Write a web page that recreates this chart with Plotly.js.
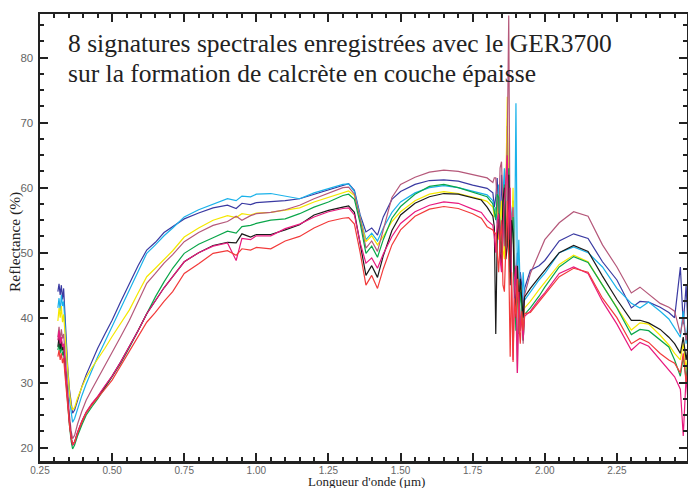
<!DOCTYPE html>
<html>
<head>
<meta charset="utf-8">
<script src="https://cdn.plot.ly/plotly-3.0.1.min.js"></script>
<style>
html,body{margin:0;padding:0;background:#fff;}
#chart{width:688px;height:488px;}
</style>
</head>
<body>
<div id="chart"></div>
<script>
// Longueur d'onde (µm)
const wavelength = [0.312,0.316,0.320,0.324,0.328,0.332,0.336,0.341,0.346,0.352,0.358,0.363,0.370,0.380,0.395,0.41,0.43,0.45,0.475,0.50,
0.53,0.56,0.59,0.62,0.65,0.68,0.71,0.75,0.80,0.85,0.90,0.93,0.95,0.98,1.00,1.05,1.10,1.15,1.20,1.25,
1.30,1.32,1.34,1.36,1.38,1.40,1.42,1.44,1.47,1.50,1.55,1.60,1.65,1.70,1.75,1.78,1.80,
1.82,1.825,1.83,1.835,1.84,1.845,1.85,1.855,1.86,1.865,1.87,1.875,1.88,1.885,1.89,1.895,1.90,1.905,1.91,1.915,1.92,1.925,1.93,
1.95,1.98,2.00,2.05,2.10,2.15,2.20,2.25,2.30,2.33,2.36,2.40,2.43,2.45,2.47,2.48,2.49,2.495];

// Reflectance (%) of the 8 signatures
const sigBleuFonce = [44.0,45.2,43.5,45.0,42.8,44.5,41.0,36.5,32.5,29.0,26.5,25.3,25.8,27.4,29.4,31.2,33.3,35.3,37.5,39.6,
42.5,45.3,48.0,50.4,51.6,53.1,54.0,55.2,56.1,56.9,57.3,56.8,57.6,57.4,57.7,57.8,58.0,58.3,59.0,59.7,
60.4,60.6,59.6,55.8,53.2,53.8,52.7,55.5,58.2,59.4,60.5,61.1,61.2,61.0,60.4,60.1,59.9,
59.2,57.0,58.5,61.5,55.0,52.0,62.0,56.0,50.5,58.0,69.5,57.0,47.0,53.0,58.0,49.0,44.0,50.0,40.5,47.0,45.0,41.0,44.5,
47.3,48.0,48.8,51.8,52.9,52.2,48.6,45.8,41.5,42.5,42.4,41.6,40.8,40.0,47.8,39.0,45.0,40.0];

const sigCyan = [41.5,43.0,41.0,43.5,41.8,42.5,39.5,35.0,31.0,27.5,25.0,23.9,24.5,26.0,28.0,29.8,32.0,34.0,36.3,38.6,
41.5,44.2,47.0,49.9,51.2,52.6,53.8,55.5,56.6,57.4,58.3,58.0,58.7,58.6,59.0,59.1,58.7,58.3,59.2,59.9,
60.5,60.6,59.4,55.5,52.0,53.0,51.8,53.8,56.2,57.8,59.2,60.0,60.3,60.0,59.4,59.1,58.9,
58.0,56.0,57.0,54.5,60.5,57.0,52.0,59.0,63.0,50.0,54.0,60.0,49.0,56.0,58.0,48.0,73.0,45.0,52.0,44.0,41.5,47.0,42.7,
44.0,45.8,46.8,50.0,50.9,50.0,47.8,44.5,42.2,41.5,42.4,41.0,39.8,38.5,37.0,41.0,36.0,39.0];

const sigJaune = [39.5,41.5,40.0,41.8,39.3,40.5,38.0,34.5,31.0,28.5,26.5,25.8,26.2,27.6,29.3,30.8,32.3,33.6,35.3,37.1,
39.2,41.2,43.8,46.3,47.6,48.9,50.3,52.4,53.8,55.0,55.7,55.4,56.0,55.8,56.1,56.2,56.5,56.9,57.8,58.5,
59.3,59.5,58.8,55.0,51.7,52.6,51.2,52.5,54.8,56.3,58.0,59.0,59.4,59.1,58.6,58.2,57.9,
57.0,55.5,56.0,58.0,52.0,55.0,58.0,50.5,49.0,60.0,74.0,55.0,46.0,52.0,60.0,45.0,42.0,48.0,40.0,45.5,43.0,39.5,41.5,
42.5,44.3,45.4,48.2,49.6,48.6,45.0,41.6,38.1,39.2,39.0,37.3,35.8,34.5,33.5,36.0,32.0,34.0];

const sigMauve = [37.0,38.6,36.5,38.2,36.8,37.5,35.0,31.5,28.0,25.0,22.6,21.4,21.9,23.6,25.6,27.3,29.0,30.6,32.6,34.5,
37.1,39.6,42.5,45.3,46.8,48.4,49.7,51.7,53.1,54.2,54.8,55.6,55.0,55.7,56.0,56.2,56.6,57.3,58.3,59.2,
60.0,60.1,59.0,55.2,50.7,51.8,50.2,53.5,58.5,60.5,61.6,62.4,62.7,62.5,62.0,61.6,61.5,
60.8,61.5,61.5,58.0,55.0,63.0,64.0,57.0,51.0,59.0,67.0,86.5,48.0,55.0,57.0,47.0,41.0,31.5,45.0,38.0,42.0,36.0,43.5,
46.8,50.0,52.0,54.6,56.3,55.6,51.2,47.8,43.8,44.7,43.6,42.2,41.6,41.0,37.5,40.0,36.5,38.0];

const sigVert = [35.0,36.0,34.5,35.8,34.2,34.8,32.5,29.5,26.5,23.5,21.0,19.8,20.4,21.8,23.5,25.0,26.3,27.5,29.2,30.9,
33.0,35.4,38.0,40.8,43.2,45.5,47.6,49.9,51.3,52.3,53.3,53.0,54.0,54.2,54.5,55.0,55.2,56.0,57.0,57.8,
58.8,59.0,58.2,54.5,49.9,51.0,49.3,52.0,55.3,57.1,59.0,60.2,60.5,60.0,59.3,58.9,58.6,
57.5,56.0,55.0,59.0,58.5,52.5,50.0,56.0,60.5,51.0,53.0,63.0,47.0,52.0,55.5,43.0,38.0,46.0,37.5,44.0,42.0,36.5,40.5,
41.5,43.3,44.7,47.8,49.4,48.5,45.0,41.5,37.4,38.2,38.0,36.5,35.5,33.5,31.0,34.0,30.5,33.0];

const sigNoir = [35.5,37.0,35.2,36.5,35.0,35.6,33.0,30.0,27.0,24.0,21.6,20.4,20.9,22.3,24.0,25.4,26.7,27.8,29.4,31.0,
33.2,35.5,38.0,40.6,42.5,44.6,46.3,48.6,50.0,51.1,51.6,51.5,52.9,52.4,52.8,52.8,53.5,54.3,55.8,56.5,
57.0,57.2,56.2,51.5,46.5,48.0,46.2,49.5,53.4,55.8,57.6,58.6,59.1,59.0,58.5,58.1,57.0,
55.6,54.0,37.5,52.0,56.0,50.0,48.0,58.0,60.0,49.0,51.0,62.0,45.0,55.0,53.0,44.0,40.0,48.0,41.0,46.0,43.0,40.0,43.2,
44.5,46.2,47.3,50.0,51.1,50.2,46.4,42.8,39.6,39.6,39.2,38.2,37.0,36.0,34.5,37.0,33.5,35.0];

const sigRose = [36.5,38.0,36.0,37.0,35.5,36.0,33.5,30.5,27.0,24.0,21.5,20.4,20.9,22.4,24.1,25.5,26.8,27.9,29.5,31.0,
33.2,35.5,38.0,40.6,42.5,44.6,46.3,48.6,50.0,51.0,51.5,48.8,52.2,52.0,52.6,52.6,53.7,54.4,55.5,56.3,
56.8,56.9,55.8,51.5,48.4,49.2,47.6,49.8,52.5,54.5,56.3,57.3,57.8,57.6,56.7,56.2,55.0,
54.2,52.5,50.0,55.0,56.0,49.0,47.0,54.0,58.0,62.0,65.0,52.0,60.0,44.0,33.5,46.0,48.0,31.5,44.0,38.0,40.0,36.5,40.2,
41.0,42.8,43.8,46.8,47.8,46.8,42.5,39.0,35.0,36.2,35.6,33.5,32.0,30.9,29.0,21.8,31.0,28.0];

const sigRouge = [34.0,35.0,33.5,34.5,33.0,33.8,31.5,29.0,26.0,23.5,21.5,20.5,20.8,22.2,23.9,25.3,26.6,27.6,29.0,30.4,
32.6,34.8,37.0,39.3,40.8,42.5,44.0,46.8,48.3,49.9,50.3,49.6,50.6,50.4,50.8,50.6,51.8,52.5,53.8,54.8,
55.3,55.4,54.4,50.0,45.0,46.5,44.5,47.5,51.2,53.5,55.6,56.7,57.1,56.8,56.0,55.3,54.0,
53.5,53.0,53.0,50.0,47.0,52.0,55.0,45.0,44.0,51.0,58.0,49.0,34.0,47.0,33.2,43.0,40.0,46.0,39.0,36.0,41.0,38.0,40.6,
40.8,42.5,43.6,46.3,47.6,47.0,43.0,40.0,36.0,36.8,36.2,34.5,33.5,33.0,31.5,34.5,30.0,32.0];

const seriesNames = ['Signature 1','Signature 2','Signature 3','Signature 4','Signature 5','Signature 6','Signature 7','Signature 8'];
const seriesValues = [sigBleuFonce, sigCyan, sigJaune, sigMauve, sigVert, sigNoir, sigRose, sigRouge];
const seriesColors = ['#3a3aa2','#1ab2ea','#f5e800','#b5587a','#0aa64a','#1a1a1a','#e8197e','#f23a3a'];

const xTickVals = [0.25,0.50,0.75,1.00,1.25,1.50,1.75,2.00,2.25];
const xTickText = ['0.25','0.50','0.75','1.00','1.25','1.50','1.75','2.00','2.25'];
const yTickVals = [20,30,40,50,60,70,80];

const titleLine1 = '8 signatures spectrales enregistrées avec le GER3700';
const titleLine2 = 'sur la formation de calcrète en couche épaisse';
const xTitle = "Longueur d'onde (µm)";
const yTitle = 'Reflectance (%)';

const traces = seriesValues.map((vals, i) => ({
  x: wavelength,
  y: vals,
  type: 'scatter',
  mode: 'lines',
  name: seriesNames[i],
  line: {color: seriesColors[i], width: 1.2},
  hoverinfo: 'skip'
}));

const serif = 'Liberation Serif';
const sans = 'Liberation Sans';

const layout = {
  width: 688,
  height: 488,
  margin: {l: 40, r: 1, t: 14, b: 27, pad: 0},
  paper_bgcolor: '#ffffff',
  plot_bgcolor: '#ffffff',
  showlegend: false,
  xaxis: {
    range: [0.25, 2.493],
    tickvals: xTickVals,
    ticktext: xTickText,
    ticks: 'inside',
    ticklen: 8,
    tickwidth: 2,
    tickcolor: '#222',
    minor: {dtick: 0.05, tick0: 0.25, ticks: 'inside', ticklen: 4, tickwidth: 2, tickcolor: '#222', showgrid: false},
    showline: true,
    linecolor: '#222',
    linewidth: 2.5,
    mirror: 'ticks',
    showgrid: false,
    zeroline: false,
    ticklabelstandoff: -2,
    tickfont: {family: sans, size: 10, color: '#666'}
  },
  yaxis: {
    range: [17.95, 86.72],
    tickvals: yTickVals,
    ticks: 'inside',
    ticklen: 8,
    tickwidth: 2,
    tickcolor: '#222',
    minor: {dtick: 2.5, tick0: 20, ticks: 'inside', ticklen: 4, tickwidth: 2, tickcolor: '#222', showgrid: false},
    showline: true,
    linecolor: '#222',
    linewidth: 2.5,
    mirror: 'ticks',
    showgrid: false,
    zeroline: false,
    ticklabelstandoff: 2,
    tickfont: {family: sans, size: 11.5, color: '#666'}
  },
  annotations: [
    {xref: 'paper', yref: 'paper', x: 0.040, y: 0.934, xanchor: 'left', yanchor: 'middle',
     text: titleLine1, showarrow: false, font: {family: serif, size: 25.5, color: '#222'}},
    {xref: 'paper', yref: 'paper', x: 0.040, y: 0.867, xanchor: 'left', yanchor: 'middle',
     text: titleLine2, showarrow: false, font: {family: serif, size: 25.5, color: '#222'}},
    {xref: 'paper', yref: 'paper', x: 0.5054, y: -0.0649, xanchor: 'center', yanchor: 'bottom', borderpad: 0,
     text: xTitle, showarrow: false, font: {family: serif, size: 13, color: '#222'}},
    {xref: 'paper', yref: 'paper', x: -0.0386, y: 0.49, xanchor: 'center', yanchor: 'middle', textangle: -90,
     text: yTitle, showarrow: false, font: {family: serif, size: 15.5, color: '#222'}}
  ]
};

Plotly.newPlot('chart', traces, layout, {displayModeBar: false, staticPlot: true});
</script>
</body>
</html>
